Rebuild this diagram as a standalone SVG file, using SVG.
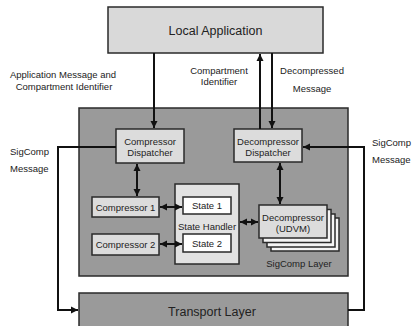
<svg xmlns="http://www.w3.org/2000/svg" width="413" height="326" viewBox="0 0 413 326">
<style>
text{font-family:"Liberation Sans",Arial,sans-serif;fill:#222;}
.s{font-size:9.5px;}
.b{font-size:12.5px;}
.m{text-anchor:middle;}
.box{stroke:#2a2a2a;stroke-width:1.5;}
.c{fill:none;stroke:#111;stroke-width:2;}
</style>
<defs>
<marker id="ah" markerWidth="8" markerHeight="8" refX="7" refY="4" orient="auto-start-reverse" markerUnits="userSpaceOnUse">
<path d="M0,0.5 L7,4 L0,7.5 Z" fill="#111"/>
</marker>
</defs>
<rect width="413" height="326" fill="#fff"/>
<g id="local-application">
<rect class="box" x="108" y="7" width="215" height="46" fill="#d9d9d9"/>
<text class="b m" x="215.5" y="34.5">Local Application</text>
</g>
<g id="sigcomp-layer">
<rect class="box" x="79" y="108" width="269" height="168" fill="#9a9a9a"/>
<text class="s m" x="299" y="266.5">SigComp Layer</text>
</g>
<g id="transport-layer">
<rect class="box" x="79" y="293" width="269" height="40" fill="#9a9a9a"/>
<text class="b m" x="212" y="315.5">Transport Layer</text>
</g>
<g id="compressor-dispatcher">
<rect class="box" x="116" y="129" width="68" height="34" fill="#dcdcdc"/>
<text class="s m" x="150" y="144.5">Compressor</text>
<text class="s m" x="150" y="155.5">Dispatcher</text>
</g>
<g id="decompressor-dispatcher">
<rect class="box" x="234" y="129" width="68" height="33" fill="#dcdcdc"/>
<text class="s m" x="268" y="144.5">Decompressor</text>
<text class="s m" x="268" y="155.5">Dispatcher</text>
</g>
<g id="compressor-1">
<rect class="box" x="92" y="197" width="67" height="20" fill="#dcdcdc"/>
<text class="s m" x="125.5" y="210.5">Compressor 1</text>
</g>
<g id="compressor-2">
<rect class="box" x="92" y="234" width="67" height="21" fill="#dcdcdc"/>
<text class="s m" x="125.5" y="248">Compressor 2</text>
</g>
<g id="state-handler">
<rect class="box" x="175" y="184" width="64" height="80" fill="#e2e2e2"/>
<text class="s m" x="207" y="229.5">State Handler</text>
</g>
<g id="state-1">
<rect class="box" x="183" y="197" width="48" height="17" fill="#fff"/>
<text class="s m" x="207" y="209">State 1</text>
</g>
<g id="state-2">
<rect class="box" x="183" y="234" width="48" height="18" fill="#fff"/>
<text class="s m" x="207" y="246.5">State 2</text>
</g>
<g id="decompressor">
<rect class="box" x="271" y="218" width="68" height="33" fill="#f4f4f4" stroke-width="1"/>
<rect class="box" x="267" y="214" width="68" height="33" fill="#f4f4f4" stroke-width="1"/>
<rect class="box" x="263" y="209.5" width="68" height="33" fill="#f4f4f4" stroke-width="1"/>
<rect class="box" x="259" y="205" width="68" height="33" fill="#dcdcdc"/>
<text class="s m" x="293" y="220.5">Decompressor</text>
<text class="s m" x="293" y="231.5">(UDVM)</text>
</g>
<g id="connectors">
<line class="c" x1="154" y1="53" x2="154" y2="128" marker-end="url(#ah)"/>
<line class="c" x1="260" y1="129" x2="260" y2="54" marker-end="url(#ah)"/>
<line class="c" x1="272" y1="53" x2="272" y2="128" marker-end="url(#ah)"/>
<line class="c" x1="137" y1="164" x2="137" y2="196" marker-start="url(#ah)" marker-end="url(#ah)"/>
<line class="c" x1="280" y1="163" x2="280" y2="204" marker-start="url(#ah)" marker-end="url(#ah)"/>
<line class="c" x1="160" y1="207" x2="182" y2="207" marker-start="url(#ah)" marker-end="url(#ah)"/>
<line class="c" x1="160" y1="244" x2="182" y2="244" marker-start="url(#ah)" marker-end="url(#ah)"/>
<line class="c" x1="240" y1="222" x2="258" y2="222" marker-start="url(#ah)" marker-end="url(#ah)"/>
<polyline class="c" points="116,147 58,147 58,310 78,310" marker-end="url(#ah)"/>
<polyline class="c" points="348,310 364,310 364,147 303,147" marker-end="url(#ah)"/>
</g>
<g id="labels">
<text class="s m" x="63" y="77.5">Application Message and</text>
<text class="s m" x="64" y="89.5">Compartment Identifier</text>
<text class="s m" x="219" y="74">Compartment</text>
<text class="s m" x="219" y="84.5">Identifier</text>
<text class="s m" x="312" y="74">Decompressed</text>
<text class="s m" x="312" y="91.5">Message</text>
<text class="s" x="10" y="154.5">SigComp</text>
<text class="s" x="10" y="171.5">Message</text>
<text class="s" x="372" y="145.5">SigComp</text>
<text class="s" x="372" y="162.5">Message</text>
</g>
</svg>
